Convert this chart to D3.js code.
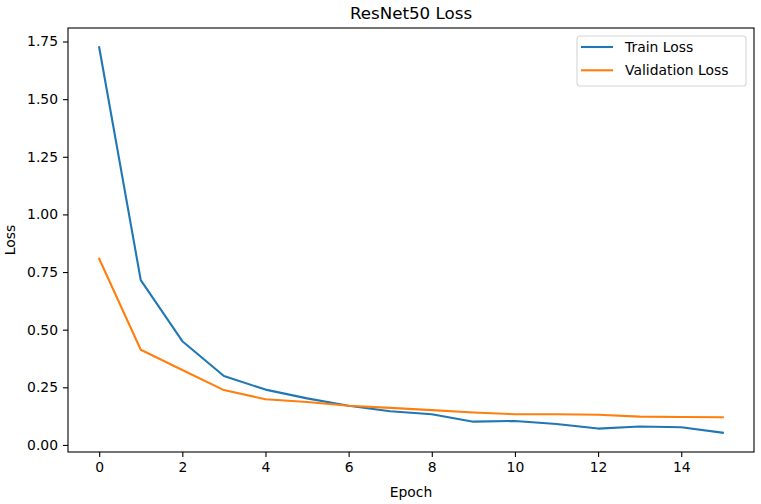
<!DOCTYPE html>
<html>
<head>
<meta charset="utf-8">
<script src="https://cdn.jsdelivr.net/npm/d3@7"></script>
<style>
  body { margin: 0; background: #fff; }
  text { font-family: "DejaVu Sans", sans-serif; fill: #000; }
</style>
</head>
<body>
<script>
// loss values per epoch
var epochs = d3.range(0, 16);
var trainLoss = [1.725, 0.715, 0.450, 0.299, 0.240, 0.202, 0.170, 0.146, 0.133, 0.101, 0.104, 0.091, 0.071, 0.080, 0.077, 0.053];
var valLoss = [0.808, 0.413, 0.325, 0.238, 0.198, 0.186, 0.170, 0.161, 0.151, 0.141, 0.133, 0.133, 0.131, 0.123, 0.121, 0.120];
var xTicks = [0, 2, 4, 6, 8, 10, 12, 14];
var yTicks = [0, 0.25, 0.5, 0.75, 1.0, 1.25, 1.5, 1.75];
var seriesNames = ["Train Loss", "Validation Loss"];
var seriesColors = ["#1f77b4", "#ff7f0e"];

var width = 761, height = 504;
var margin = {left: 68, right: 7, top: 28, bottom: 52};

var svg = d3.select("body").append("svg")
  .attr("width", width)
  .attr("height", height);

// matplotlib style 5% margins around the data
var x = d3.scaleLinear().domain([-0.75, 15.75]).range([margin.left, width - margin.right]);
var yMin = d3.min(trainLoss.concat(valLoss)), yMax = d3.max(trainLoss.concat(valLoss));
var pad = (yMax - yMin) * 0.05;
var y = d3.scaleLinear().domain([yMin - pad, yMax + pad]).range([height - margin.bottom, margin.top]);

var xAxis = d3.axisBottom(x).tickValues(xTicks).tickFormat(d3.format("d")).tickSizeOuter(0).tickSize(5).tickPadding(5);
var yAxis = d3.axisLeft(y).tickValues(yTicks).tickFormat(d3.format(".2f")).tickSizeOuter(0).tickSize(5).tickPadding(5);

var gx = svg.append("g")
  .attr("transform", "translate(0," + (height - margin.bottom) + ")")
  .call(xAxis);
var gy = svg.append("g")
  .attr("transform", "translate(" + margin.left + ",0)")
  .call(yAxis);

[gx, gy].forEach(function (g) {
  g.select(".domain").remove();
  g.selectAll(".tick line").attr("stroke", "#000").attr("stroke-width", 1.1);
  g.selectAll(".tick text").style("font-size", "13.9px").attr("fill", "#000");
});

// lines
var line = d3.line()
  .x(function (d, i) { return x(epochs[i]); })
  .y(function (d) { return y(d); });

var plot = svg.append("g");
[trainLoss, valLoss].forEach(function (series, k) {
  plot.append("path")
    .datum(series)
    .attr("d", line)
    .attr("fill", "none")
    .attr("stroke", seriesColors[k])
    .attr("stroke-width", 2.1)
    .attr("stroke-linejoin", "round")
    .attr("stroke-linecap", "square");
});

// frame
svg.append("rect")
  .attr("x", margin.left)
  .attr("y", margin.top)
  .attr("width", width - margin.left - margin.right)
  .attr("height", height - margin.top - margin.bottom)
  .attr("fill", "none")
  .attr("stroke", "#000")
  .attr("stroke-width", 1.1);

// title and axis labels
svg.append("text")
  .attr("x", (margin.left + width - margin.right) / 2)
  .attr("y", 19)
  .attr("text-anchor", "middle")
  .style("font-size", "16.7px")
  .text("ResNet50 Loss");

svg.append("text")
  .attr("x", (margin.left + width - margin.right) / 2)
  .attr("y", 497)
  .attr("text-anchor", "middle")
  .style("font-size", "13.9px")
  .text("Epoch");

svg.append("text")
  .attr("transform", "translate(15," + ((margin.top + height - margin.bottom) / 2) + ") rotate(-90)")
  .attr("text-anchor", "middle")
  .style("font-size", "13.9px")
  .text("Loss");

// legend
var lx = 577, ly = 36;
var legend = svg.append("g");
legend.append("rect")
  .attr("x", lx)
  .attr("y", ly)
  .attr("width", 169)
  .attr("height", 50)
  .attr("rx", 3)
  .attr("fill", "#fff")
  .attr("fill-opacity", 0.8)
  .attr("stroke", "#d6d6d6")
  .attr("stroke-width", 1.1);

seriesNames.forEach(function (name, k) {
  var yy = ly + 11 + k * 23.3;
  legend.append("line")
    .attr("x1", lx + 4).attr("x2", lx + 36)
    .attr("y1", yy).attr("y2", yy)
    .attr("stroke", seriesColors[k])
    .attr("stroke-width", 2.1);
  legend.append("text")
    .attr("x", lx + 48)
    .attr("y", yy + 5)
    .style("font-size", "13.9px")
    .text(name);
});
</script>
</body>
</html>
